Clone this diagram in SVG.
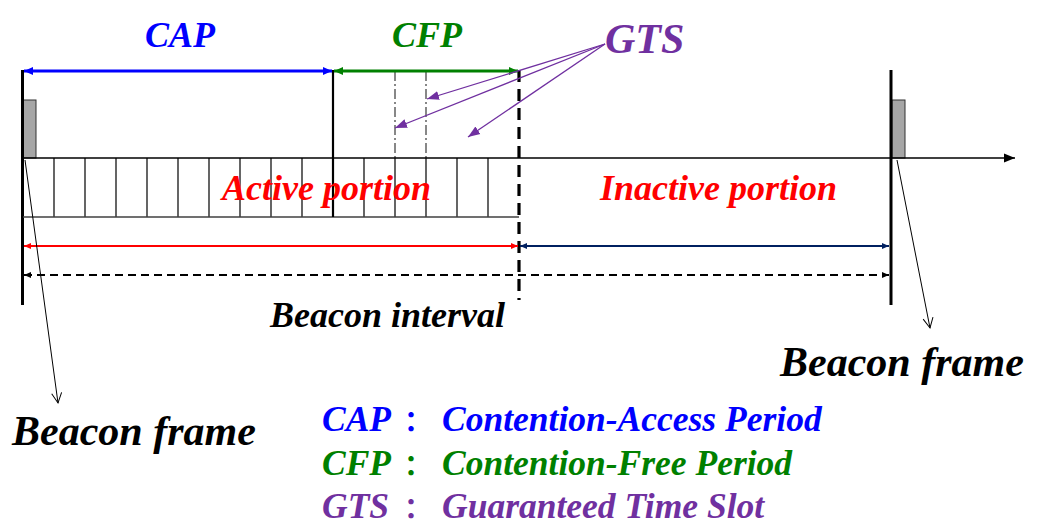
<svg xmlns="http://www.w3.org/2000/svg" width="1040" height="529" viewBox="0 0 1040 529">
<style>
  .t { font-family: "Liberation Serif", "Times New Roman", serif; font-weight: bold; font-style: italic; }
  .cj { font-family: "Noto Sans CJK SC", sans-serif; font-style: normal; font-weight: bold; }
  .grid { stroke: #404040; stroke-width: 1.6; fill: none; }
  .bar { stroke: #000; stroke-width: 3; }
  .gts { stroke: #7030A0; stroke-width: 1.3; fill: none; marker-end: url(#mPurple); }
  .ptr { stroke: #000; stroke-width: 1; fill: none; marker-end: url(#mOpen); }
</style>
<defs>
  <marker id="mBlue" markerUnits="userSpaceOnUse" markerWidth="10" markerHeight="10" refX="9" refY="5" orient="auto-start-reverse"><path d="M0,1 L9,5 L0,9 Z" fill="#0000FF"/></marker>
  <marker id="mGreen" markerUnits="userSpaceOnUse" markerWidth="10" markerHeight="10" refX="9" refY="5" orient="auto-start-reverse"><path d="M0,1 L9,5 L0,9 Z" fill="#008000"/></marker>
  <marker id="mRed" markerUnits="userSpaceOnUse" markerWidth="8" markerHeight="8" refX="7" refY="4" orient="auto-start-reverse"><path d="M0,1 L7,4 L0,7 Z" fill="#FF0000"/></marker>
  <marker id="mNavy" markerUnits="userSpaceOnUse" markerWidth="8" markerHeight="8" refX="7" refY="4" orient="auto-start-reverse"><path d="M0,1 L7,4 L0,7 Z" fill="#002060"/></marker>
  <marker id="mBlack" markerUnits="userSpaceOnUse" markerWidth="8" markerHeight="8" refX="7" refY="4" orient="auto-start-reverse"><path d="M0,1 L7,4 L0,7 Z" fill="#000"/></marker>
  <marker id="mAxis" markerUnits="userSpaceOnUse" markerWidth="12" markerHeight="12" refX="11" refY="6" orient="auto"><path d="M0,1.5 L11,6 L0,10.5 Z" fill="#000"/></marker>
  <marker id="mPurple" markerUnits="userSpaceOnUse" markerWidth="14" markerHeight="12" refX="12" refY="6" orient="auto"><path d="M0,1.5 L12,6 L0,10.5 Z" fill="#7030A0"/></marker>
  <marker id="mOpen" markerUnits="userSpaceOnUse" markerWidth="14" markerHeight="14" refX="11" refY="7" orient="auto"><path d="M1,2 L11,7 L1,12" fill="none" stroke="#000" stroke-width="1"/></marker>
</defs>

<g id="beacon-left">
  <rect x="23" y="100" width="13" height="58" fill="#A6A6A6" stroke="#333" stroke-width="1"/>
  <line class="bar" x1="22.5" y1="70" x2="22.5" y2="305"/>
</g>
<g id="beacon-right">
  <rect x="892" y="100" width="13" height="58" fill="#A6A6A6" stroke="#333" stroke-width="1"/>
  <line class="bar" x1="891" y1="70" x2="891" y2="305"/>
</g>

<g id="slots">
  <line class="grid" x1="23" y1="217" x2="519" y2="217"/>
  <path class="grid" d="M54,158V217 M85,158V217 M116,158V217 M147,158V217 M178,158V217 M209,158V217 M240,158V217 M271,158V217 M302,158V217 M364,158V217 M395,158V217 M426,158V217 M457,158V217 M488,158V217"/>
  <line x1="333" y1="70" x2="333" y2="217" stroke="#000" stroke-width="2.2"/>
  <path d="M395,71V158 M426,71V158" stroke="#555" stroke-width="1.4" stroke-dasharray="10 3 2 3" fill="none"/>
  <line x1="519" y1="70" x2="519" y2="300" stroke="#000" stroke-width="3.2" stroke-dasharray="12 7"/>
</g>

<g id="connectors">
  <line x1="23" y1="158" x2="1015" y2="158" stroke="#000" stroke-width="1.3" marker-end="url(#mAxis)"/>
  <line x1="24" y1="71" x2="332" y2="71" stroke="#0000FF" stroke-width="3" marker-start="url(#mBlue)" marker-end="url(#mBlue)"/>
  <line x1="334" y1="71" x2="518" y2="71" stroke="#008000" stroke-width="3" marker-start="url(#mGreen)" marker-end="url(#mGreen)"/>
  <line x1="24" y1="246" x2="518" y2="246" stroke="#FF0000" stroke-width="2" marker-start="url(#mRed)" marker-end="url(#mRed)"/>
  <line x1="520" y1="246" x2="889" y2="246" stroke="#002060" stroke-width="2" marker-start="url(#mNavy)" marker-end="url(#mNavy)"/>
  <line x1="24" y1="275" x2="889" y2="275" stroke="#000" stroke-width="2.2" stroke-dasharray="8 5" marker-start="url(#mBlack)" marker-end="url(#mBlack)"/>
  <line class="gts" x1="605" y1="44" x2="427" y2="99"/>
  <line class="gts" x1="605" y1="44" x2="395" y2="128"/>
  <line class="gts" x1="605" y1="44" x2="468" y2="137"/>
  <line class="ptr" x1="25" y1="160" x2="58" y2="403"/>
  <line class="ptr" x1="897" y1="160" x2="930" y2="328"/>
</g>

<g id="labels">
  <text class="t" x="180" y="47" font-size="36" fill="#0000FF" text-anchor="middle">CAP</text>
  <text class="t" x="427" y="47" font-size="36" fill="#008000" text-anchor="middle">CFP</text>
  <text class="t" x="605" y="53" font-size="42" fill="#7030A0">GTS</text>
  <text class="t" x="222" y="200" font-size="36" fill="#FF0000">Active portion</text>
  <text class="t" x="600" y="200" font-size="36" fill="#FF0000">Inactive portion</text>
  <text class="t" x="270" y="327" font-size="36" fill="#000">Beacon interval</text>
  <text class="t" x="780" y="376" font-size="42" fill="#000">Beacon frame</text>
  <text class="t" x="12" y="445" font-size="42" fill="#000">Beacon frame</text>
</g>

<g id="legend">
  <text class="t" y="431" font-size="35.5" fill="#0000FF"><tspan x="322">CAP</tspan><tspan class="cj" x="404" font-size="28">：</tspan><tspan x="442">Contention-Access Period</tspan></text>
  <text class="t" y="475" font-size="35.5" fill="#008000"><tspan x="322">CFP</tspan><tspan class="cj" x="404" font-size="28">：</tspan><tspan x="442">Contention-Free Period</tspan></text>
  <text class="t" y="518" font-size="35.5" fill="#7030A0"><tspan x="322">GTS</tspan><tspan class="cj" x="404" font-size="28">：</tspan><tspan x="442">Guaranteed Time Slot</tspan></text>
</g>
</svg>
